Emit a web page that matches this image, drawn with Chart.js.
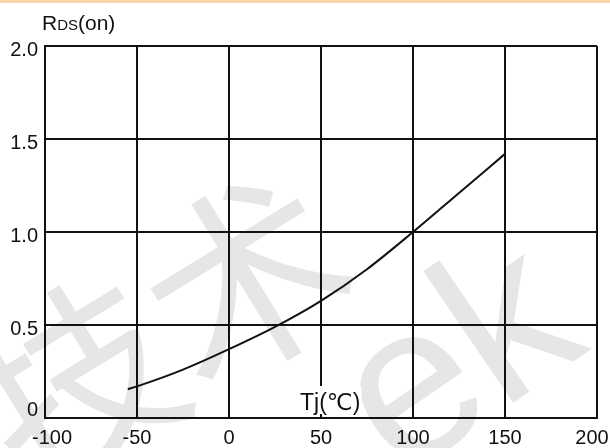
<!DOCTYPE html>
<html>
<head>
<meta charset="utf-8">
<script src="https://cdn.jsdelivr.net/npm/chart.js@4"></script>
<style>
  html, body { margin: 0; padding: 0; background: #fff; }
  body { width: 610px; height: 448px; overflow: hidden; position: relative; }
  #topline { position: absolute; left: 0; top: 0; width: 610px; height: 3px; background: #fbd3a6; }
  #wrap { width: 610px; height: 448px; }
</style>
</head>
<body>
<div id="topline"></div>
<div id="wrap"><canvas id="myChart" width="610" height="448"></canvas></div>
<script>
// Tj (deg C) vs normalised RDS(on)
var tempC = [-55, -50, -25, 0, 25, 50, 75, 100, 125, 150];
var rdsOn = [0.155, 0.17, 0.26, 0.37, 0.49, 0.63, 0.80, 1.0, 1.21, 1.42];
var xTickLabels = ["-100", "-50", "0", "50", "100", "150", "200"];
var yTickLabels = ["0", "0.5", "1.0", "1.5", "2.0"];

var font = "Arial, 'Liberation Sans', 'DejaVu Sans', sans-serif";

var points = tempC.map(function (t, i) { return {x: t, y: rdsOn[i]}; });

// faint watermark behind everything
var watermark = {
  id: "watermark",
  beforeDraw: function (chart) {
    var ctx = chart.ctx;
    ctx.save();
    ctx.fillStyle = "#e6e6e6";
    ctx.font = "200px 'Noto Sans CJK SC', sans-serif";
    ctx.translate(30, 500);
    ctx.rotate(-0.55);
    ctx.fillText("技术", 0, 0);
    ctx.restore();
    ctx.save();
    ctx.fillStyle = "#e6e6e6";
    ctx.font = "220px 'Liberation Sans', sans-serif";
    ctx.translate(400, 480);
    ctx.rotate(-0.6);
    ctx.fillText("ek", 0, 0);
    ctx.restore();
  }
};

// axis titles drawn inside / above the plot like the datasheet
var titles = {
  id: "titles",
  afterDraw: function (chart) {
    var ctx = chart.ctx;
    var xs = chart.scales.x, ys = chart.scales.y;
    ctx.save();
    ctx.fillStyle = "#111";
    ctx.textBaseline = "alphabetic";
    ctx.textAlign = "left";
    // RDS(on)
    var x = 42, y = 30;
    ctx.font = "21px " + font;
    ctx.fillText("R", x, y);
    x += ctx.measureText("R").width;
    ctx.font = "15px " + font;
    ctx.fillText("DS", x, y);
    x += ctx.measureText("DS").width;
    ctx.font = "21px " + font;
    ctx.fillText("(on)", x, y);

    // Tj(℃)
    ctx.font = "23px " + font;
    var label = "Tj(℃)";
    var w = ctx.measureText(label).width;
    var cx = xs.getPixelForValue(55);
    var base = ys.getPixelForValue(0) - 8;
    ctx.fillStyle = "#fff";
    ctx.fillRect(cx - w / 2 - 1, base - 24, w + 2, 28);
    ctx.fillStyle = "#111";
    ctx.fillText(label, cx - w / 2, base);
    ctx.restore();
  }
};

new Chart("myChart", {
  type: "scatter",
  data: {
    datasets: [{
      data: points,
      showLine: true,
      borderColor: "#111",
      borderWidth: 2,
      pointRadius: 0,
      cubicInterpolationMode: "monotone"
    }]
  },
  plugins: [watermark, titles],
  options: {
    responsive: false,
    animation: false,
    layout: {padding: {top: 46, right: 13, left: 0, bottom: 0}},
    plugins: {
      legend: {display: false},
      tooltip: {enabled: false}
    },
    scales: {
      x: {
        type: "linear",
        min: -100,
        max: 200,
        afterFit: function (s) { s.height = 30; s.paddingRight = 0; s.paddingLeft = 0; },
        border: {color: "#111", width: 2},
        grid: {color: "#111", lineWidth: 2, drawTicks: false},
        ticks: {
          stepSize: 50,
          padding: 8,
          color: "#111",
          maxRotation: 0,
          font: {family: font, size: 20},
          // end labels sit a little inside the frame, as in the datasheet
          callback: function (v, i) {
            var t = xTickLabels[i];
            if (i === 0) return "\u2002\u2009" + t;
            if (i === xTickLabels.length - 1) return t + "\u2002";
            return t;
          }
        }
      },
      y: {
        min: 0,
        max: 2,
        afterFit: function (s) { s.width = 45; s.paddingTop = 0; s.paddingBottom = 0; },
        border: {color: "#111", width: 2},
        grid: {color: "#111", lineWidth: 2, drawTicks: false},
        ticks: {
          stepSize: 0.5,
          padding: 7,
          labelOffset: 4,
          color: "#111",
          font: {family: font, size: 20},
          // the "0" is lifted above the x axis line
          callback: function (v, i) { return i === 0 ? [yTickLabels[i], ""] : yTickLabels[i]; }
        }
      }
    }
  }
});
</script>
</body>
</html>
